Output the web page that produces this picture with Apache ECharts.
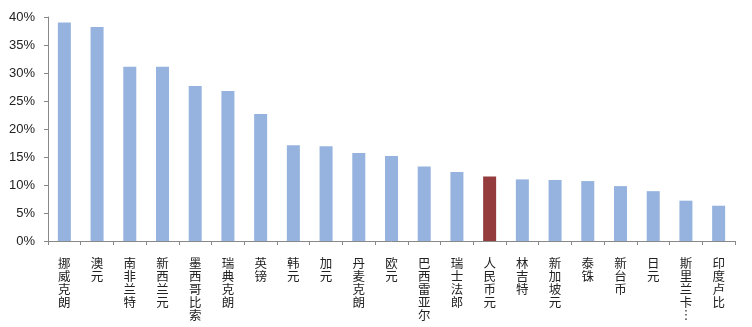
<!DOCTYPE html>
<html>
<head>
<meta charset="utf-8">
<script src="https://cdn.jsdelivr.net/npm/echarts@6/dist/echarts.min.js"></script>
<style>html,body{margin:0;padding:0;background:#fff;}#c{width:752px;height:327px;}</style>
</head>
<body>
<div id="c"></div>
<script>
const categories = ['挪威克朗','澳元','南非兰特','新西兰元','墨西哥比索','瑞典克朗','英镑','韩元','加元','丹麦克朗','欧元','巴西雷亚尔','瑞士法郎','人民币元','林吉特','新加坡元','泰铢','新台币','日元','斯里兰卡…','印度卢比'];
const values = [39.0, 38.2, 31.1, 31.1, 27.7, 26.8, 22.7, 17.1, 16.9, 15.7, 15.2, 13.3, 12.3, 11.5, 11.0, 10.9, 10.7, 9.8, 8.9, 7.2, 6.3];
const highlight = '人民币元';
const yTicks = [0, 5, 10, 15, 20, 25, 30, 35, 40];

const chart = echarts.init(document.getElementById('c'), null, {renderer: 'canvas'});
chart.setOption({
  animation: false,
  grid: {left: 48, right: 17, top: 17, bottom: 86},
  xAxis: {
    type: 'category',
    data: categories,
    axisLine: {lineStyle: {color: '#888', width: 1}},
    axisTick: {show: true, length: 4, lineStyle: {color: '#888'}},
    axisLabel: {
      interval: 0,
      margin: 16,
      color: '#222',
      fontFamily: 'Noto Sans CJK SC',
      fontSize: 12.5,
      lineHeight: 13,
      verticalAlign: 'top',
      formatter: v => v.replace('…', '︙').split('').join('\n')
    }
  },
  yAxis: {
    type: 'value',
    min: yTicks[0],
    max: yTicks[yTicks.length - 1],
    interval: 5,
    splitLine: {show: false},
    axisLine: {show: true, lineStyle: {color: '#888', width: 1}},
    axisTick: {show: true, length: 4, inside: false, lineStyle: {color: '#888'}},
    axisLabel: {
      margin: 13,
      color: '#222',
      fontFamily: 'Liberation Sans',
      fontSize: 13,
      formatter: v => v + '%'
    }
  },
  series: [{
    type: 'bar',
    barWidth: 13,
    data: values.map((v, i) => ({
      value: v,
      itemStyle: {color: categories[i] === highlight ? '#943B3D' : '#95B3DE'}
    }))
  }]
});
</script>
</body>
</html>
